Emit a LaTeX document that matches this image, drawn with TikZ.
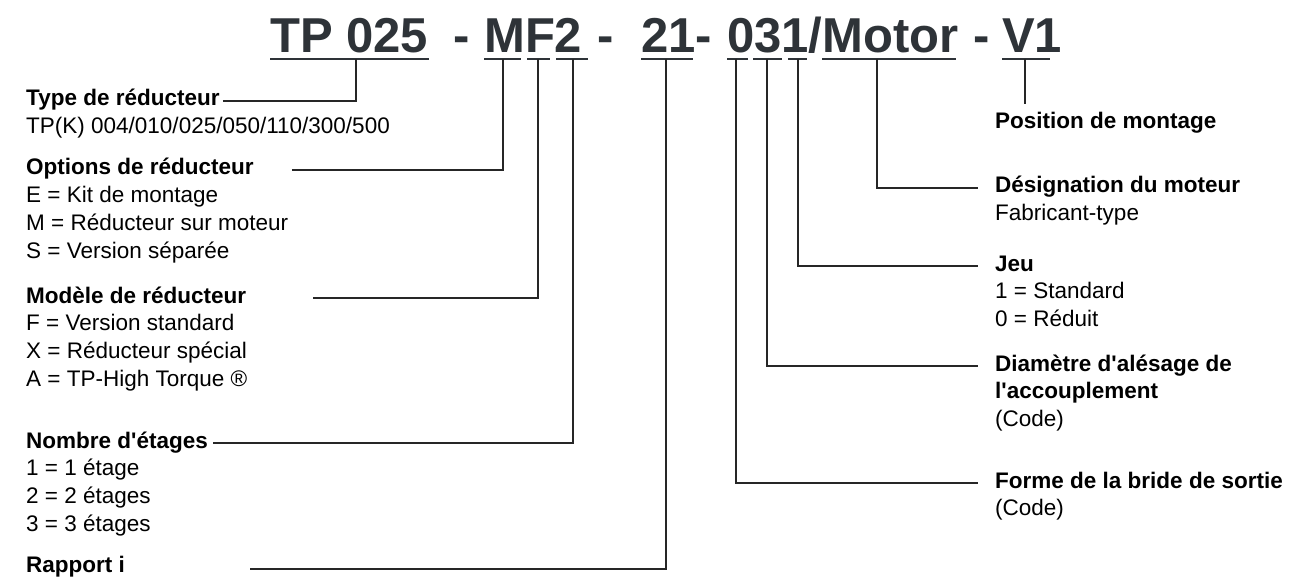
\documentclass[tikz,border=0pt]{standalone}
\usepackage{fontspec}
\setmainfont{Liberation Sans}
\usetikzlibrary{positioning}
\definecolor{codegray}{HTML}{2E3338}
\definecolor{leadgray}{HTML}{262626}
\begin{document}
\begin{tikzpicture}[x=1pt, y=-1pt, line join=miter, line cap=butt,
    code/.style={font=\fontsize{49pt}{49pt}\selectfont\bfseries, text=codegray, inner sep=0pt, anchor=base west},
    head/.style={font=\fontsize{22.5pt}{27.8pt}\selectfont\bfseries, inner sep=0pt, anchor=base west},
    body/.style={font=\fontsize{22.5pt}{27.8pt}\selectfont, inner sep=0pt, align=left},
    uline/.style={codegray, line width=1.4pt},
    lead/.style={leadgray, line width=1.9pt}]
\useasboundingbox (0,0) rectangle (1305,577);
\fill[white] (0,0) rectangle (1305,577);
			\node[code] (tp) at (270,53) {TP 025};
			\node[code] (d1) at (453,53) {-};
			\node[code] (mf) at (484,53) {MF2};
			\node[code] (d2) at (597,53) {-};
			\node[code] (ratio) at (641,53) {21};
			\node[code] (d3) at (695,53) {-};
			\node[code] (motor) at (727,53) {031/Motor};
			\node[code] (d4) at (973,53) {-};
			\node[code] (vpos) at (1002,53) {V1};
			\foreach \a/\b/\c/\n in {270/429/356/tTP, 484/521/503/tM, 527/550/538/tF, 556/588/573/tS, 641/693/666/tR, 727/748/736/tO, 753/782/767/tB, 788/807/798/tJ, 822/956/877/tMo, 1002/1050/1025/tV}{
				\draw[uline] (\a,59) -- (\b,59);
				\coordinate (\n) at (\c,59);
			}
			\node[head] (typ) at (26,106) {Type de réducteur};
			\node[body, below right=11pt and 0pt of typ.base west] (typb) {TP(K) 004/010/025/050/110/300/500};
			\node[head] (opt) at (26,175) {Options de réducteur};
			\node[body, below right=11pt and 0pt of opt.base west] (optb) {E = Kit de montage\\M = Réducteur sur moteur\\S = Version séparée};
			\node[head] (mod) at (26,303) {Modèle de réducteur};
			\node[body, below right=11pt and 0pt of mod.base west] (modb) {F = Version standard\\X = Réducteur spécial\\A = TP-High Torque ®};
			\node[head] (nbr) at (26,448) {Nombre d\textquotesingle étages};
			\node[body, below right=11pt and 0pt of nbr.base west] (nbrb) {1 = 1 étage\\2 = 2 étages\\3 = 3 étages};
			\node[head] (rap) at (26,572) {Rapport i};
			\node[head] (pos) at (995,129) {Position de montage};
			\node[head] (mot) at (995,193) {Désignation du moteur};
			\node[body, below right=11pt and 0pt of mot.base west] (motb) {Fabricant-type};
			\node[head] (jeu) at (995,271) {Jeu};
			\node[body, below right=11pt and 0pt of jeu.base west] (jeub) {1 = Standard\\0 = Réduit};
			\node[head] (dia) at (995,371) {Diamètre d\textquotesingle alésage de};
			\node[body, below right=11pt and 0pt of dia.base west] (diab) {\textbf{l\textquotesingle accouplement}\\(Code)};
			\node[head] (bri) at (995,488) {Forme de la bride de sortie};
			\node[body, below right=11pt and 0pt of bri.base west] (brib) {(Code)};
			\draw[lead] ([xshift=3pt,yshift=5pt]typ.base east) -| (tTP);
			\draw[lead] ([xshift=38pt,yshift=5pt]opt.base east) -| (tM);
			\draw[lead] ([xshift=67pt,yshift=5pt]mod.base east) -| (tF);
			\draw[lead] ([xshift=5pt,yshift=5pt]nbr.base east) -| (tS);
			\draw[lead] ([xshift=125pt,yshift=3pt]rap.base east) -| (tR);
			\draw[lead, shorten >=8pt] (tV) -- (tV |- pos.north);
			\draw[lead] (tMo) |- ([xshift=-17pt,yshift=5pt]mot.base west);
			\draw[lead] (tJ) |- ([xshift=-17pt,yshift=5pt]jeu.base west);
			\draw[lead] (tB) |- ([xshift=-17pt,yshift=5pt]dia.base west);
			\draw[lead] (tO) |- ([xshift=-17pt,yshift=5pt]bri.base west);
\end{tikzpicture}
\end{document}
